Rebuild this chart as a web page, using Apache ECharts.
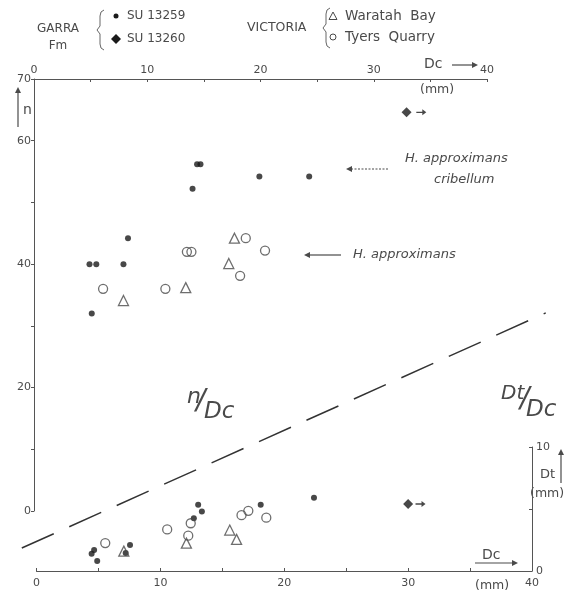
<!DOCTYPE html>
<html>
<head>
<meta charset="utf-8">
<script src="https://cdn.jsdelivr.net/npm/echarts@6/dist/echarts.min.js"></script>
<style>
  html, body { margin: 0; padding: 0; background: #fff; }
  #chart { width: 568px; height: 594px; }
</style>
</head>
<body>
<div id="chart"></div>
<script>
// upper plot: n against Dc (top + left axes)
var su13259N = [[4.9, 40], [5.5, 40], [5.1, 32], [7.9, 40], [8.3, 44.2], [14.0, 52.2], [14.4, 56.2], [14.7, 56.2], [19.9, 54.2], [24.3, 54.2]];
var su13260N = [[32.9, 64.6]];
var waratahN = [[7.9, 34.1], [13.4, 36.2], [17.2, 40.1], [17.7, 44.2]];
var tyersN = [[6.1, 36], [11.6, 36], [13.5, 42], [13.9, 42], [18.7, 44.2], [20.4, 42.2], [18.2, 38.1]];
var beyondN = [[34.2, 64.6]];

// lower plot: Dt against Dc (bottom + right axes)
var su13259Dt = [[4.45, 1.4], [4.65, 1.7], [4.9, 0.8], [7.2, 1.45], [7.55, 2.1], [12.7, 4.25], [13.05, 5.35], [13.35, 4.8], [18.1, 5.35], [22.4, 5.9]];
var su13260Dt = [[30.0, 5.4]];
var waratahDt = [[7.05, 1.6], [12.1, 2.25], [15.6, 3.3], [16.15, 2.55]];
var tyersDt = [[5.55, 2.25], [10.55, 3.35], [12.25, 2.85], [12.45, 3.85], [16.55, 4.5], [17.1, 4.85], [18.55, 4.3]];
var beyondDt = [[31.0, 5.4]];

// dashed boundary, in upper-plot units (drawn on a wider hidden grid)
var divider = [[-1.06, -6], [46, 32.1]];

var dcLabels = [0, 10, 20, 30, 40];
var nLabels = [0, 20, 40, 60, 70];
var dtLabels = [0, 10];

var ink = "#1a1a1a";
var grey = "#4a4a4a";
var fam = "'DejaVu Sans', sans-serif";
var arrowPath = "path://M0,3.2L6,3.2L6,0.5L10,4L6,7.5L6,4.8L0,4.8Z";

function txt(str, x, y, size, extra) {
  var st = {
    text: str,
    fill: grey,
    font: (extra && extra.italic ? "italic " : "") + size + "px " + fam,
    textAlign: (extra && extra.align) || "left",
    textVerticalAlign: "middle",
  };
  return { type: "text", x: x, y: y, silent: true, style: st };
}

function arrow(x1, y1, x2, y2, dashed) {
  // head at (x2, y2)
  var ang = Math.atan2(y2 - y1, x2 - x1);
  var h = 6, w = 3;
  var bx = x2 - h * Math.cos(ang), by = y2 - h * Math.sin(ang);
  var px = -Math.sin(ang) * w, py = Math.cos(ang) * w;
  return [
    {
      type: "line", silent: true,
      shape: { x1: x1, y1: y1, x2: bx, y2: by },
      style: { stroke: grey, lineWidth: 1.2, lineDash: dashed ? [2, 1.5] : null },
    },
    {
      type: "polygon", silent: true,
      shape: { points: [[x2, y2], [bx + px, by + py], [bx - px, by - py]] },
      style: { fill: grey },
    },
  ];
}

function brace(x, y, h) {
  var m = h / 2;
  var pts = [[x + 4, y], [x + 1, y + 2], [x, y + 6], [x, y + m - 4], [x - 3, y + m],
             [x, y + m + 4], [x, y + h - 6], [x + 1, y + h - 2], [x + 4, y + h]];
  return { type: "polyline", silent: true, shape: { points: pts }, style: { stroke: "#666", fill: null, lineWidth: 1 } };
}

var graphics = [
  txt("GARRA", 58, 29, 12, { align: "center" }),
  txt("Fm", 58, 46, 12, { align: "center" }),
  brace(100, 10, 40),
  { type: "circle", silent: true, shape: { cx: 116, cy: 16, r: 2.5 }, style: { fill: ink } },
  txt("SU 13259", 127, 16, 12),
  { type: "polygon", silent: true, shape: { points: [[116, 34], [121, 39], [116, 44], [111, 39]] }, style: { fill: ink } },
  txt("SU 13260", 127, 39, 12),
  txt("VICTORIA", 247, 28, 12.5),
  brace(326, 8, 40),
  { type: "polygon", silent: true, shape: { points: [[333, 12], [337, 19.5], [329, 19.5]] }, style: { fill: null, stroke: grey, lineWidth: 1 } },
  txt("Waratah  Bay", 345, 16, 13.5),
  { type: "circle", silent: true, shape: { cx: 333, cy: 37, r: 3 }, style: { fill: null, stroke: grey, lineWidth: 1 } },
  txt("Tyers  Quarry", 345, 37, 13.5),

  // axis captions
  txt("Dc", 424, 64, 14),
  txt("(mm)", 420, 90, 12.5),
  txt("n", 23, 110, 14),
  txt("Dc", 482, 555, 14),
  txt("(mm)", 475, 586, 12.5),
  txt("Dt", 540, 475, 13),
  txt("(mm)", 530, 494, 12.5),

  // annotations
  txt("H. approximans", 405, 159, 13, { italic: true }),
  txt("cribellum", 434, 180, 13, { italic: true }),
  txt("H. approximans", 353, 255, 13, { italic: true }),

  txt("n", 187, 397, 22, { italic: true }),
  txt("/", 196, 402, 28, { italic: true }),
  txt("Dc", 204, 412, 23, { italic: true }),
  txt("Dt", 501, 394, 20, { italic: true }),
  txt("/", 520, 400, 28, { italic: true }),
  txt("Dc", 526, 410, 23, { italic: true }),
]
  .concat(arrow(452, 65, 478, 65))
  .concat(arrow(18, 127, 18, 87))
  .concat(arrow(475, 563, 518, 563))
  .concat(arrow(561, 483, 561, 449))
  .concat(arrow(388, 169, 346, 169, true))
  .concat(arrow(341, 255, 304, 255));

var chart = echarts.init(document.getElementById("chart"));

function axisBase(labels, margin) {
  return {
    type: "value",
    splitLine: { show: false },
    axisLine: { onZero: false, lineStyle: { color: "#555", width: 1 } },
    axisTick: { length: 3, lineStyle: { color: "#555" } },
    axisLabel: {
      color: grey, fontSize: 11, fontFamily: fam, margin: margin,
      formatter: function (v) { return labels.indexOf(v) >= 0 ? String(v) : ""; },
    },
  };
}

function hiddenAxis(min, max) {
  return { type: "value", gridIndex: 2, min: min, max: max, show: false, splitLine: { show: false } };
}

function sc(name, data, xi, yi, symbol, size, hollow) {
  return {
    name: name, type: "scatter", xAxisIndex: xi, yAxisIndex: yi,
    data: data, symbol: symbol, symbolSize: size, z: 3,
    itemStyle: hollow
      ? { color: "rgba(0,0,0,0)", borderColor: grey, borderWidth: 1.3 }
      : { color: ink },
    emphasis: { disabled: true },
  };
}

// upper plot scale: 453 px per 40 mm, 432 px per 70
var pxX = 453 / 40, pxN = 432 / 70;

var option = {
  backgroundColor: "#fff",
  animation: false,
  grid: [
    { left: 34, top: 79, width: 453, height: 432 },
    { left: 36.5, top: 447, width: 495.5, height: 124 },
    // same scale as grid 0, widened so the boundary can run past the axes
    { left: 34 - 2 * pxX, top: 79 + (70 - 34) * pxN, width: 50 * pxX, height: 42 * pxN },
  ],
  xAxis: [
    Object.assign(axisBase(dcLabels, 3), { gridIndex: 0, position: "top", min: 0, max: 40, interval: 5,
      axisTick: { inside: true, length: 3, lineStyle: { color: "#555" } } }),
    Object.assign(axisBase(dcLabels, 7), { gridIndex: 1, position: "bottom", min: 0, max: 40, interval: 5,
      axisTick: { inside: true, length: 3, lineStyle: { color: "#555" } } }),
    hiddenAxis(-2, 48),
  ],
  yAxis: [
    Object.assign(axisBase(nLabels, 3), { gridIndex: 0, position: "left", min: 0, max: 70, interval: 10 }),
    Object.assign(axisBase(dtLabels, 4), { gridIndex: 1, position: "right", min: 0, max: 10, interval: 5,
      axisTick: { inside: true, length: 3, lineStyle: { color: "#555" } } }),
    hiddenAxis(-8, 34),
  ],
  series: [
    {
      name: "boundary", type: "line", xAxisIndex: 2, yAxisIndex: 2,
      data: divider, symbol: "none", silent: true,
      lineStyle: { color: "#333", width: 1.5, type: [35, 17] },
    },
    sc("SU 13259", su13259N, 0, 0, "circle", 6, false),
    sc("SU 13260", su13260N, 0, 0, "diamond", 10, false),
    sc("Waratah Bay", waratahN, 0, 0, "triangle", 10, true),
    sc("Tyers Quarry", tyersN, 0, 0, "circle", 9, true),
    sc("beyond", beyondN, 0, 0, arrowPath, [10, 6], false),
    sc("SU 13259", su13259Dt, 1, 1, "circle", 6, false),
    sc("SU 13260", su13260Dt, 1, 1, "diamond", 10, false),
    sc("Waratah Bay", waratahDt, 1, 1, "triangle", 10, true),
    sc("Tyers Quarry", tyersDt, 1, 1, "circle", 9, true),
    sc("beyond", beyondDt, 1, 1, arrowPath, [10, 6], false),
  ],
  graphic: graphics,
};

chart.setOption(option);
</script>
</body>
</html>
